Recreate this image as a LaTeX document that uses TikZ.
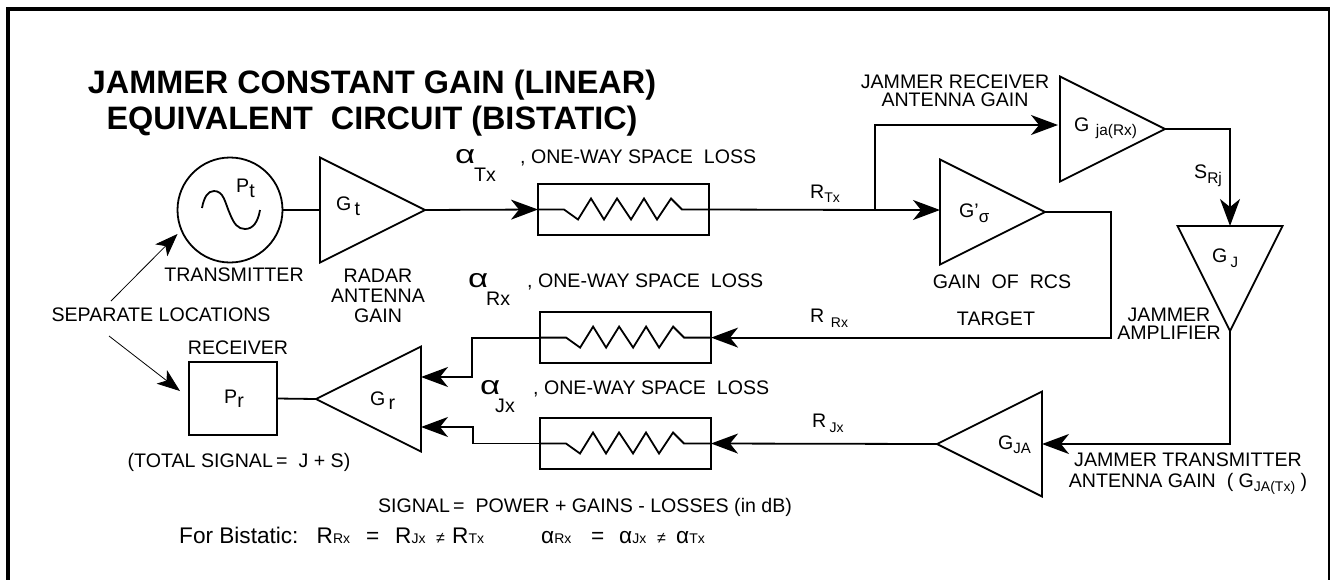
\documentclass[tikz,border=0pt]{standalone}
\usepackage{fontspec}
\setmainfont{Liberation Sans}
\usetikzlibrary{arrows.meta,shapes.geometric}
\newcommand{\subf}[2][14]{{\fontsize{#1}{#1}\selectfont #2}}
\newcommand{\low}[3][14]{\raisebox{-#2pt}{\subf[#1]{#3}}}
\tikzset{
  lbl/.style={inner sep=0pt,anchor=base west,font=\fontsize{19.6}{20}\selectfont},
  lblc/.style={inner sep=0pt,anchor=center,align=center,font=\fontsize{19.6}{20}\selectfont},
  wire/.style={line width=1.8pt},
  sig/.style={wire,-{Stealth[length=27pt,width=20pt,inset=8pt]}},
  thin sig/.style={line width=0.8pt,-{Stealth[length=23pt,width=17pt,inset=6pt]}},
  amp/.style={draw,wire,isosceles triangle,isosceles triangle stretches,minimum size=105pt,inner sep=0pt,outer sep=0pt,anchor=apex},
  res/.style={draw,wire,rectangle,minimum width=171pt,minimum height=51pt,inner sep=0pt,outer sep=0pt}
}
\begin{document}
\begin{tikzpicture}[x=1pt,y=-1pt]
        \useasboundingbox (0,0) rectangle (1330,579);
        % frame
        \draw[line width=4pt] (8,590) -- (8,9) -- (1330,9) -- (1330,590);
        \node[lblc,font=\bfseries\fontsize{32.4}{36}\selectfont] (title) at (372,103) {JAMMER CONSTANT GAIN (LINEAR)\\EQUIVALENT\ \ CIRCUIT (BISTATIC)};
        % radar side
        \node[draw,wire,circle,minimum size=105pt,inner sep=0pt,outer sep=0pt] (tx) at (230,210) {};
        \node[amp] (ampT) at (425,210) {};
        \node[amp,shape border rotate=180] (ampR) at (316,399) {};
        \node[draw,wire,minimum width=88pt,minimum height=73pt,inner sep=0pt,outer sep=0pt] (rx) at (233,398.5) {};
        % target and jammer
        \node[amp] (ampS) at (1045,212) {};
        \node[amp] (ampJa) at (1165,129) {};
        \node[amp,shape border rotate=-90] (ampJ) at (1230,331) {};
        \node[amp,shape border rotate=180] (ampJt) at (937,444) {};
        % space loss
        \node[res] (resTx) at (623.5,209.5) {};
        \node[res] (resRx) at (625.6,337.6) {};
        \node[res] (resJx) at (625.5,443.5) {};
        \foreach \n in {resTx,resRx,resJx}
        \draw[wire] (\n.west) -- ++(26,0) -- ++(14,10) -- ++(13,-21) -- ++(13,21) -- ++(13,-21) -- ++(14,21) -- ++(13,-21) -- ++(13,21) -- ++(14,-21) -- ++(11,11) -- (\n.east);
        % sine
        \draw[wire] (202,208) .. controls (204,197) and (208,191) .. (214,191) .. controls (224,191) and (225,203) .. (230,214) .. controls (234,224) and (238,229) .. (245,229) .. controls (253,229) and (258,222) .. (260,210);
        % connectors
        \coordinate (branch) at (875,210);
        \coordinate (inRx) at (421,377);
        \coordinate (inJx) at (421,427);
        \coordinate (inS) at (940,210);
        \coordinate (inJa) at (1058,125);
        \coordinate (sepA) at (111,301);
        \coordinate (sepB) at (109,336);
        \coordinate (sepAend) at (177.5,234);
        \coordinate (sepBend) at (180,391);
        \draw[wire] (tx) -- (ampT.lower side);
        \draw[sig] (ampT.apex) -- (resTx.west);
        \draw[wire] (resTx.east) -- (branch);
        \draw[sig] (branch) -- (inS);
        \draw[sig] (branch) |- (inJa);
        \draw[sig] (ampJa.apex) -| (ampJ.lower side);
        \draw[sig] (ampS.apex) -- ++(66,0) |- (resRx.east);
        \draw[sig] (resRx.west) -- ++(-68,0) |- (inRx);
        \draw[sig] (ampJ.apex) |- (ampJt.lower side);
        \draw[sig] (ampJt.apex) -- (resJx.east);
        \draw[sig] (resJx.west) -- ++(-67,0) |- (inJx);
        \draw[wire] (rx.east) -- (ampR.apex);
        \draw[thin sig] (sepA) -- (sepAend);
        \draw[thin sig] (sepB) -- (sepBend);
        % labels
        \node[lblc] (sepLbl) at (161,315) {SEPARATE LOCATIONS};
        \node[lblc] (txLbl) at (234,275) {TRANSMITTER};
        \node[lblc] (rxLbl) at (238,348) {RECEIVER};
        \node[lblc] (gainLbl) at (378,296) {RADAR\\ANTENNA\\GAIN};
        \node[lblc] (totalLbl) at (239,462) {(TOTAL SIGNAL\,=\ \ J + S)};
        \node[lblc] (rcsLbl) at (1002,282) {GAIN\ \ OF\ \ RCS};
        \node[lblc] (tgtLbl) at (996,319) {TARGET};
        \node[lblc,font=\fontsize{19.6}{18}\selectfont] (ampLbl) at (1169,324) {JAMMER\\AMPLIFIER};
        \node[lblc,font=\fontsize{19.6}{18}\selectfont] (jrxLbl) at (955,91) {JAMMER RECEIVER\\ANTENNA GAIN};
        \node[lblc,font=\fontsize{19.6}{21}\selectfont] (jtxLbl) at (1188,473.5) {JAMMER TRANSMITTER\\ANTENNA GAIN\ \ ( G\low{4}{JA(Tx)} )};
        \node[lblc] (sigLbl) at (585,507) {SIGNAL\,=\ \ POWER + GAINS - LOSSES (in dB)};
        % gains
        \node[lbl] (pT) at (236,192) {P\low[19.6]{5}{t}};
        \node[lbl] (gT) at (336,210) {G\,\low[19.6]{5}{t}};
        \node[lbl] (pR) at (224,403) {P\low[19.6]{4}{r}};
        \node[lbl] (gR) at (370,405) {G\,\low[19.6]{4}{r}};
        \node[lbl] (gS) at (959,217) {G'\low[17]{5}{σ}};
        \node[lbl] (gJa) at (1074,131) {G\,\,\low[15.4]{4}{ja(Rx)}};
        \node[lbl] (gJ) at (1212,262) {G\,\low[15]{5}{J}};
        \node[lbl] (gJt) at (998,449) {G\low[15]{4}{JA}};
        \node[lbl] (sRj) at (1194,178) {S\low[15.5]{5}{Rj}};
        \node[lbl] (rTx) at (810,198) {R\low{4}{Tx}};
        \node[lbl] (rRx) at (810,322) {R\,\,\low{5}{Rx}};
        \node[lbl] (rJx) at (812,427) {R\,\low{5}{Jx}};
        % losses
        \foreach \n/\xa/\ya/\xb/\xc in {Tx/455/163/474/520,Rx/468/287/486/527,Jx/480/394/495/533}{
        \node[lbl,font=\fontsize{29}{29}\selectfont] (a\n) at (\xa,\ya) {\scalebox{1.2}[0.9]{α}};
        \node[lbl] (s\n) at (\xb,\ya+18) {\n};
        \node[lbl] (l\n) at (\xc,\ya) {, ONE-WAY SPACE\ \ LOSS};
        }
        % bistatic line
        \foreach \n/\x/\t in {e0/179/For Bistatic:,e1/316.5/R\subf{Rx},e2/366/=,e3/395/R\subf{Jx},e4/436/\subf[16]{≠},e5/452/R\subf{Tx},e6/541/α\subf{Rx},e7/591/=,e8/619/α\subf{Jx},e9/657/\subf[16]{≠},e10/676/α\subf{Tx}}
        \node[lbl,font=\fontsize{22.6}{22}\selectfont] (\n) at (\x,543) {\t};
\end{tikzpicture}
\end{document}
